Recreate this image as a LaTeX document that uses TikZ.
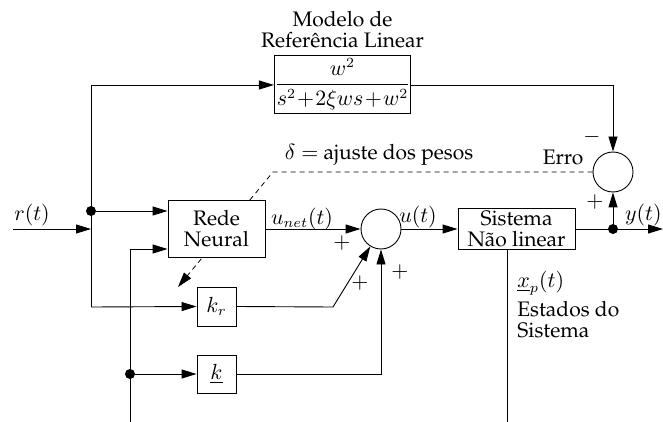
\documentclass[tikz,border=0pt]{standalone}
\usepackage[T1]{fontenc}
\renewcommand{\rmdefault}{ppl}
\usetikzlibrary{arrows.meta}
\pgfdeclarelayer{bg}
\pgfsetlayers{bg,main}
\begin{document}
\begin{tikzpicture}[x=0.5pt,y=-0.5pt,
  font=\fontsize{10.5}{10.5}\selectfont,
  line width=0.45pt,
  >={Triangle[length=7.5pt,width=4.5pt]},
  blk/.style={draw,fill=white,inner sep=0pt,align=center},
  sumc/.style={draw,circle,fill=white,minimum size=20pt,inner sep=0pt},
  dotc/.style={circle,fill,inner sep=0pt,minimum size=5pt},
  lbl/.style={inner sep=0pt}]
\useasboundingbox (0,0) rectangle (663,422);

% blocks
\node[blk,minimum width=67.5pt,minimum height=29pt] (model) at (342.5,84) {$\displaystyle\frac{w^2}{s^2\mkern1mu{+}\mkern1mu2\xi ws\mkern1mu{+}\mkern1mu w^2}$};
\node[lbl,align=center] (modlab) at (342.5,30) {Modelo de\\Refer\^encia Linear};
\node[blk,minimum width=48.5pt,minimum height=28.5pt] (net) at (216.5,229) {Rede\\Neural};
\node[blk,minimum width=19.5pt,minimum height=19.5pt] (kr) at (216.5,306.5) {$k_r$};
\node[blk,minimum width=19.5pt,minimum height=19pt] (k) at (216.5,374) {$\underline{k}$};
\node[sumc] (sum) at (381,229) {};
\node[blk,minimum width=58.5pt,minimum height=20.5pt] (sys) at (516.5,229) {Sistema\\N\~ao linear};
\node[sumc] (err) at (613,172) {};
\node[dotc] (d1) at (91,211) {};
\node[dotc] (d2) at (130,374) {};
\node[dotc] (d3) at (613,229) {};

% coordinates
\coordinate (rin) at (13,229);
\coordinate (rj) at (91,229);
\coordinate (top) at (91,85);
\coordinate (kri) at (91,307);
\coordinate (bot) at (130,422);
\coordinate (ni) at (130,249);
\coordinate (kro) at (333,307);
\coordinate (ko) at (381,374);
\coordinate (mo) at (613,85);
\coordinate (yout) at (663,229);
\coordinate (sb) at (507,422);
\coordinate (dk) at (273,172);
\coordinate (dtip) at (178,287);

% connectors
\draw[->] (rin) -- (rj);
\draw (kri) -- (top);
\draw[->] (top) -- (model.west |- top);
\draw[->] (d1) -- (d1 -| net.west);
\draw[->] (kri) -- (kr.west);
\draw (bot) -- (ni);
\draw[->] (ni) -- (ni -| net.west);
\draw[->] (d2) -- (k.west);
\draw[->] (net.east) -- (sum.west);
\draw[->] (kr.east) -- (kro) -- (sum);
\draw[->] (k.east) -- (ko) -- (sum.south);
\draw[->] (sum.east) -- (sys.west);
\draw[->] (sys.east) -- (yout);
\draw[->] (d3) -- (err.south);
\draw[->] (model.east |- mo) -- (mo) -- (err.north);
\draw (sys.south -| sb) -- (sb);
\begin{pgfonlayer}{bg}
\draw[dash pattern=on 2.5pt off 2pt,->] (err.west) -- (dk) -- (dtip);
\end{pgfonlayer}

% labels
\node[lbl] (rlab) at (32,215) {$r(t)$};
\node[lbl] (unet) at (302,219) {$u_{net}(t)$};
\node[lbl] (ulab) at (418,217) {$u(t)$};
\node[lbl,anchor=east] (ylab) at (662,215) {$y(t)$};
\node[lbl] (p1) at (342,243) {$+$};
\node[lbl] (p2) at (360,283) {$+$};
\node[lbl] (p3) at (400,272) {$+$};
\node[lbl] (p4) at (595,202) {$+$};
\node[lbl] (m1) at (592,137) {$-$};
\node[lbl] (erro) at (563,157) {Erro};
\node[lbl] (delta) at (379,155) {$\delta=$ ajuste dos pesos};
\node[lbl,anchor=west] (xp) at (517,283) {$\underline{x}_p(t)$};
\node[lbl,anchor=north west,align=left] (est) at (517,301) {Estados do\\Sistema};
\end{tikzpicture}
\end{document}
